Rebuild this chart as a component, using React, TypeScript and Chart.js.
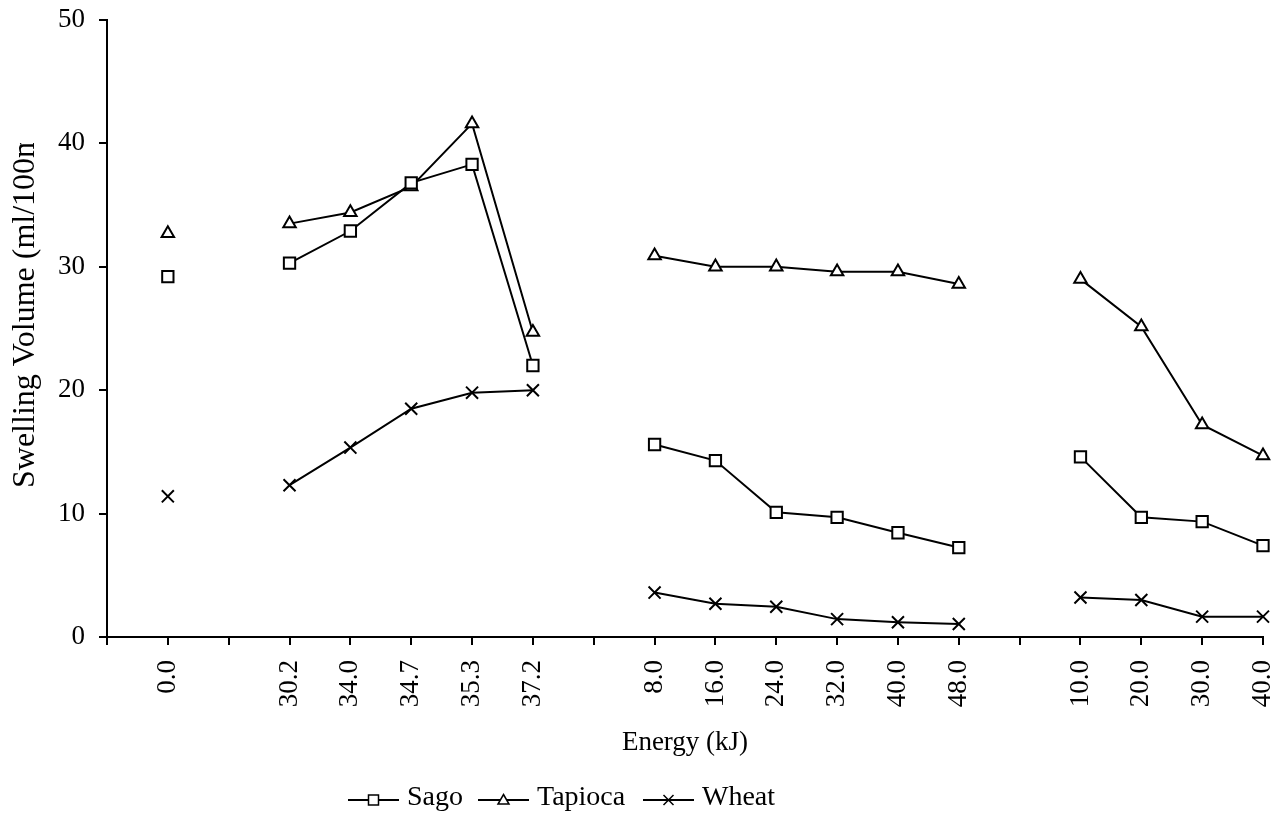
import React, { useEffect, useRef } from "react";
import { Chart, registerables } from "chart.js";

Chart.register(...registerables);

const categories = ["", "0.0", "", "30.2", "34.0", "34.7", "35.3", "37.2", "", "8.0", "16.0", "24.0", "32.0", "40.0", "48.0", "", "10.0", "20.0", "30.0", "40.0"];
const sago = [null, 29.2, null, 30.3, 32.9, 36.8, 38.3, 22.0, null, 15.6, 14.3, 10.1, 9.7, 8.45, 7.25, null, 14.6, 9.7, 9.35, 7.4];
const tapioca = [null, 32.7, null, 33.5, 34.4, 36.5, 41.6, 24.7, null, 30.9, 30.0, 30.0, 29.6, 29.6, 28.6, null, 29.0, 25.15, 17.2, 14.7];
const wheat = [null, 11.4, null, 12.3, 15.35, 18.5, 19.8, 20.0, null, 3.6, 2.7, 2.45, 1.45, 1.2, 1.05, null, 3.2, 3.0, 1.65, 1.65];
const seriesNames = ["Sago", "Tapioca", "Wheat"];
const xTitle = "Energy (kJ)";
const yTitle = "Swelling Volume (ml/100ml)";

const FONT = "'Liberation Serif', 'Times New Roman', serif";

function drawMarker(ctx: CanvasRenderingContext2D, kind: string, x: number, y: number, s: number) {
  ctx.beginPath();
  if (kind === "rect") {
    ctx.rect(x - s, y - s, 2 * s, 2 * s);
    ctx.fillStyle = "#fff";
    ctx.fill();
    ctx.stroke();
  } else if (kind === "triangle") {
    ctx.moveTo(x, y - s * 1.1);
    ctx.lineTo(x + s * 1.1, y + s * 0.8);
    ctx.lineTo(x - s * 1.1, y + s * 0.8);
    ctx.closePath();
    ctx.fillStyle = "#fff";
    ctx.fill();
    ctx.stroke();
  } else {
    ctx.moveTo(x - s, y - s);
    ctx.lineTo(x + s, y + s);
    ctx.moveTo(x + s, y - s);
    ctx.lineTo(x - s, y + s);
    ctx.stroke();
  }
}

const decorPlugin = {
  id: "decor",
  afterDraw(chart: any) {
    const ctx: CanvasRenderingContext2D = chart.ctx;
    const area = chart.chartArea;
    ctx.save();
    ctx.fillStyle = "#000";
    // x title
    ctx.font = `27px ${FONT}`;
    ctx.textAlign = "center";
    ctx.textBaseline = "middle";
    ctx.fillText(xTitle, (area.left + area.right) / 2, 743);
    // y title (clipped at top like the reference)
    ctx.save();
    ctx.beginPath();
    ctx.rect(0, 143, area.left, 700);
    ctx.clip();
    ctx.translate(26, 488);
    ctx.rotate(-Math.PI / 2);
    ctx.textAlign = "left";
    ctx.textBaseline = "middle";
    ctx.font = `32px ${FONT}`;
    ctx.fillText(yTitle, 0, 0);
    ctx.restore();
    // legend
    const kinds = ["rect", "triangle", "cross"];
    const starts = [348, 478, 643];
    ctx.font = `28px ${FONT}`;
    ctx.textAlign = "left";
    ctx.textBaseline = "alphabetic";
    ctx.strokeStyle = "#000";
    ctx.lineWidth = 2;
    for (let i = 0; i < 3; i++) {
      const x0 = starts[i];
      const ly = 800;
      ctx.beginPath();
      ctx.moveTo(x0, ly);
      ctx.lineTo(x0 + 51, ly);
      ctx.stroke();
      ctx.lineWidth = 1.5;
      drawMarker(ctx, kinds[i], x0 + 25.5, ly, 5);
      ctx.lineWidth = 2;
      ctx.fillStyle = "#000";
      ctx.fillText(seriesNames[i], x0 + 59, 805);
    }
    ctx.restore();
  },
};

export default function App() {
  const ref = useRef<HTMLCanvasElement | null>(null);
  useEffect(() => {
    if (!ref.current) return;
    const common = {
      borderColor: "#000",
      borderWidth: 2,
      pointBorderColor: "#000",
      pointBackgroundColor: "#fff",
      pointBorderWidth: 2,
      spanGaps: false,
      tension: 0,
    };
    const chart = new Chart(ref.current, {
      type: "line",
      data: {
        labels: categories,
        datasets: [
          { ...common, label: seriesNames[0], data: sago, pointStyle: "rect", pointRadius: 8 },
          { ...common, label: seriesNames[1], data: tapioca, pointStyle: "triangle", pointRadius: 7.2 },
          { ...common, label: seriesNames[2], data: wheat, pointStyle: "crossRot", pointRadius: 8.5 },
        ],
      },
      options: {
        responsive: false,
        animation: false,
        layout: { padding: { top: 20, right: 11, bottom: 0, left: 0 } },
        plugins: { legend: { display: false }, tooltip: { enabled: false }, title: { display: false } },
        scales: {
          x: {
            type: "category",
            offset: false,
            grid: { display: true, drawOnChartArea: false, drawTicks: true, tickLength: 8, color: "#000", lineWidth: 2 },
            border: { display: true, color: "#000", width: 2 },
            ticks: {
              autoSkip: false,
              maxRotation: 90,
              minRotation: 90,
              padding: 15,
              color: "#000",
              font: { family: FONT, size: 27 },
            },
            afterFit: (s: any) => {
              s.height = 815 - 637;
              s.paddingLeft = 0;
              s.paddingRight = 0;
            },
          },
          y: {
            min: 0,
            max: 50,
            ticks: { stepSize: 10, padding: 14, color: "#000", font: { family: FONT, size: 27 } },
            grid: { display: true, drawOnChartArea: false, drawTicks: true, tickLength: 8, color: "#000", lineWidth: 2 },
            border: { display: true, color: "#000", width: 2 },
            afterFit: (s: any) => {
              s.width = 107;
              s.paddingTop = 0;
              s.paddingBottom = 0;
            },
          },
        },
      },
      plugins: [decorPlugin],
    });
    return () => chart.destroy();
  }, []);
  return (
    <div style={{ position: "absolute", left: 0, top: 0, width: 1274, height: 815, background: "#fff" }}>
      <canvas ref={ref} width={1274} height={815} style={{ display: "block" }} />
    </div>
  );
}
